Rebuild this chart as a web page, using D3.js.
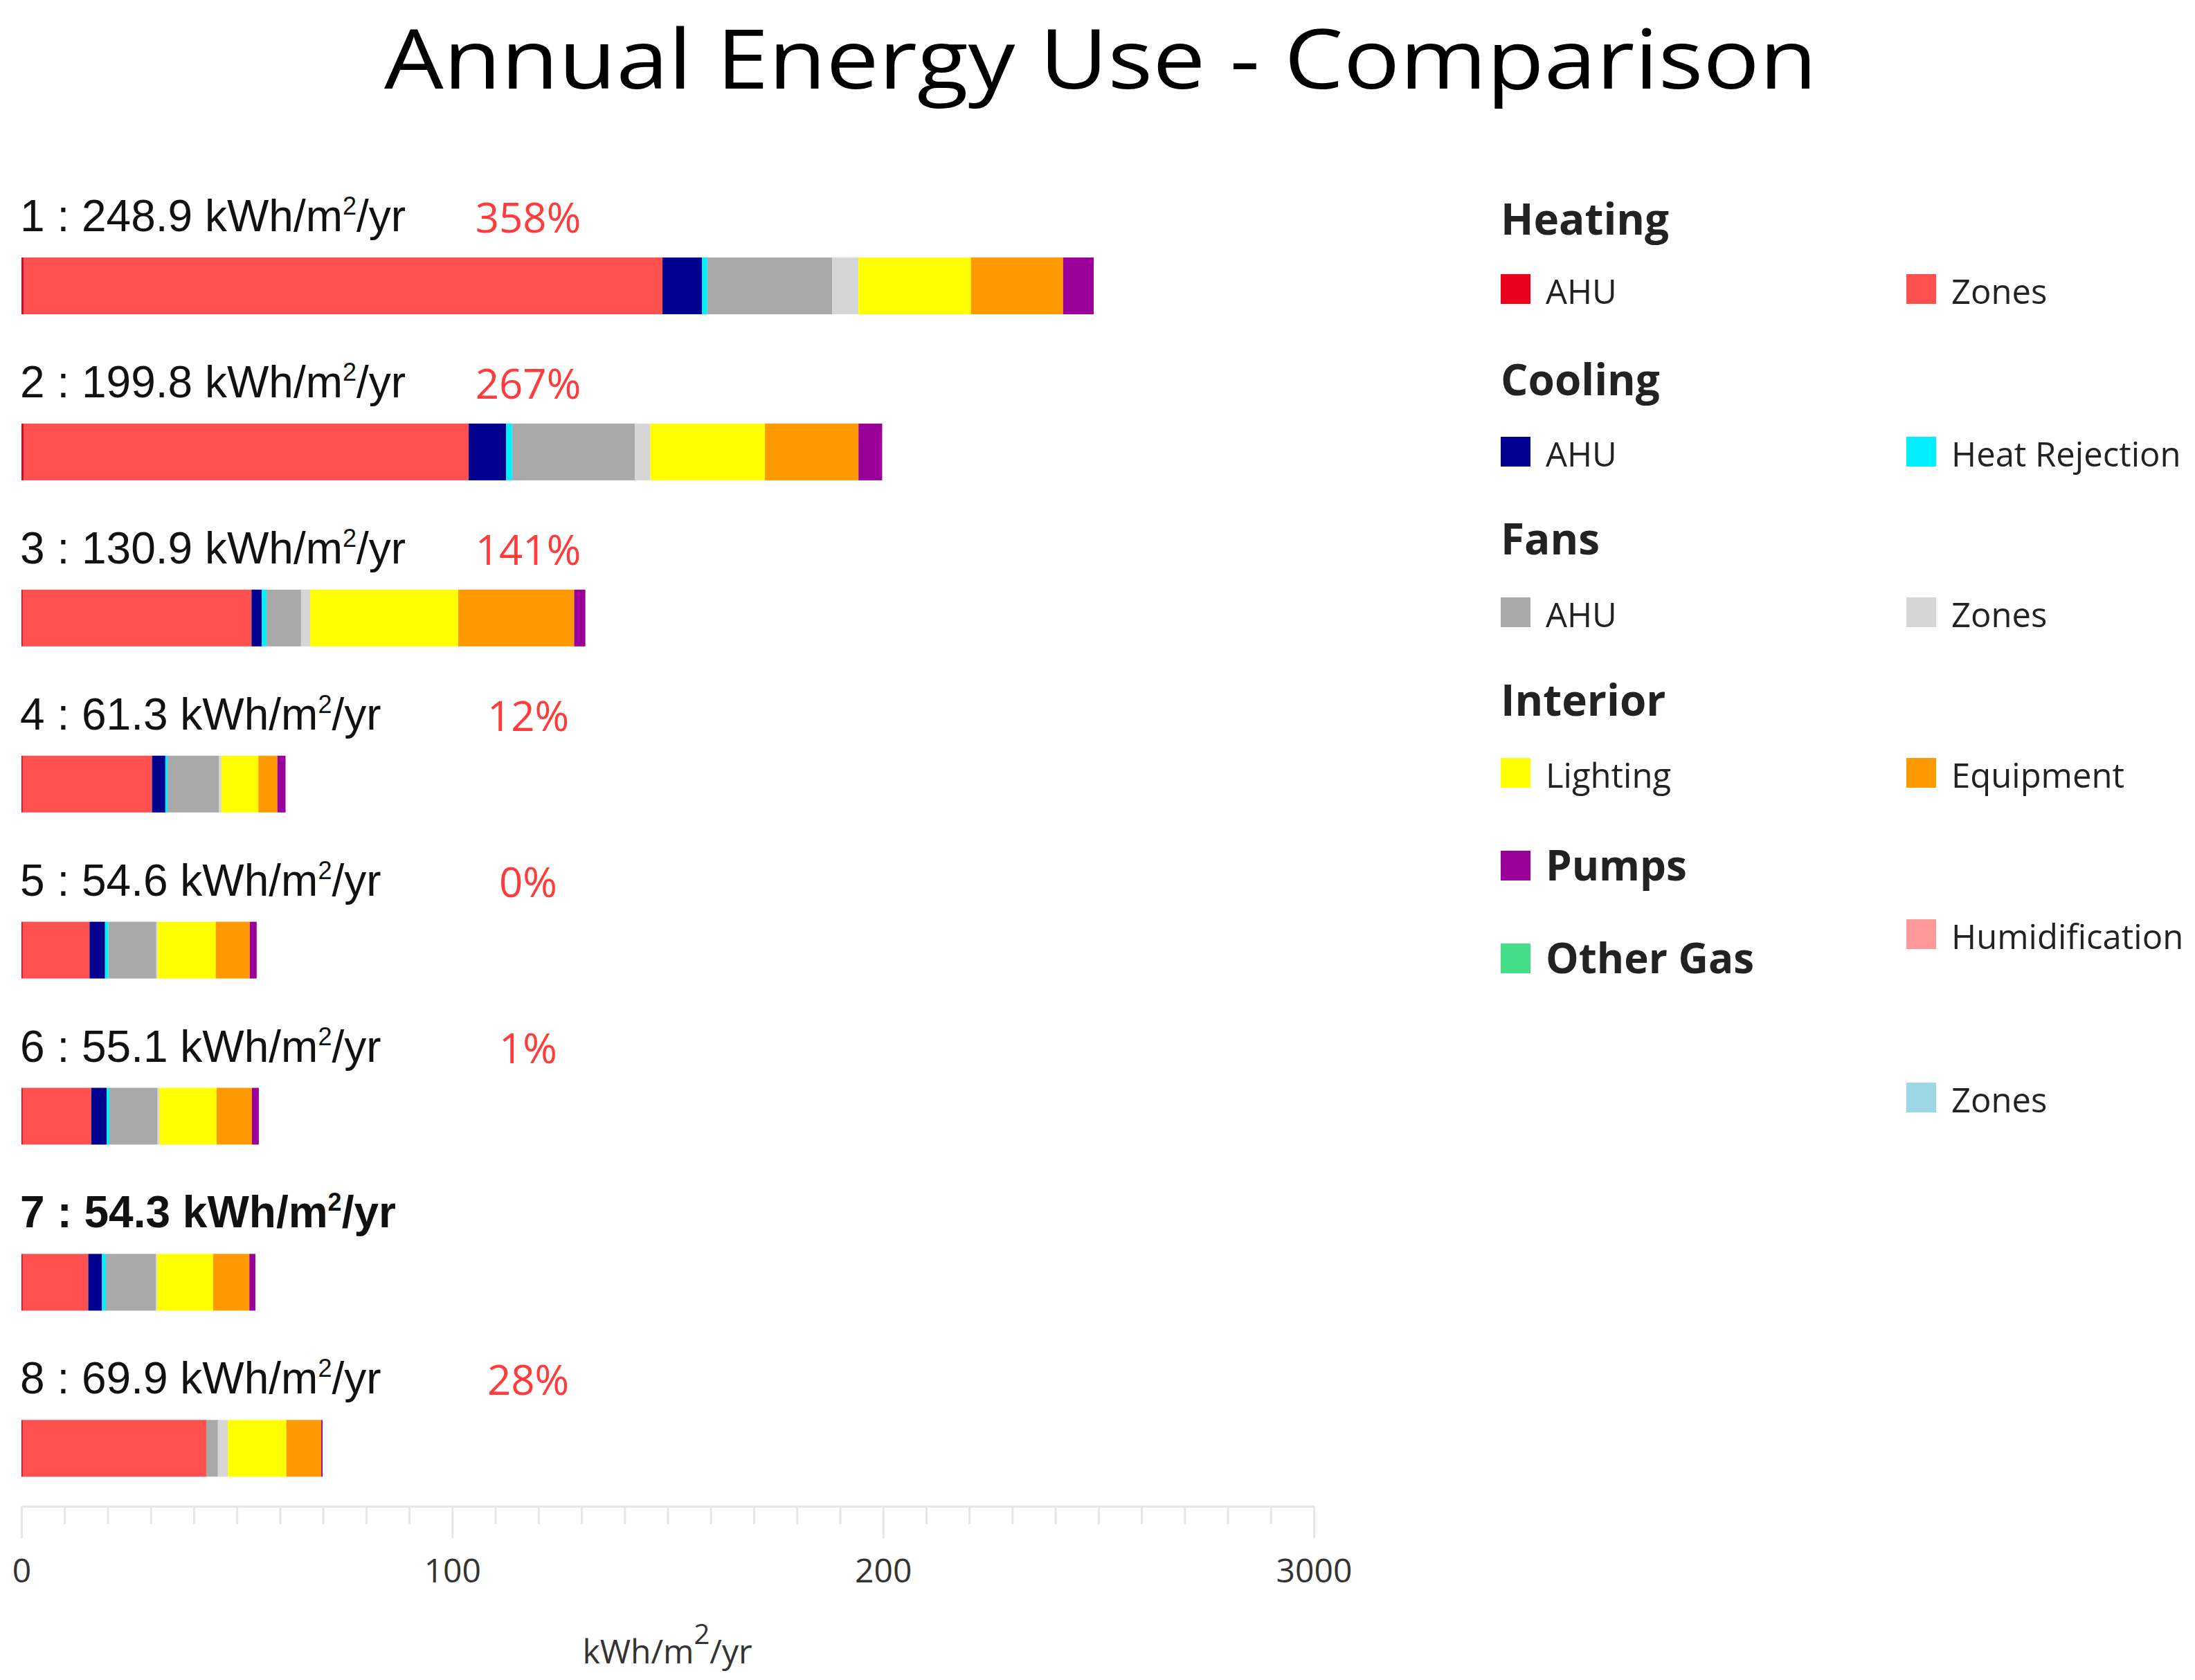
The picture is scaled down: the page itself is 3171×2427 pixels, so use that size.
<!DOCTYPE html>
<html>
<head>
<meta charset="utf-8">
<script src="https://cdn.jsdelivr.net/npm/d3@7"></script>
<style>
  body { margin: 0; background: #fff; }
  svg { display: block; }
</style>
</head>
<body>
<div id="chart"></div>
<script>
/**
 * CONSTANTS AND GLOBALS
 * */
const width = 3171,
  height = 2427,
  margin = { top: 372, left: 31, right: 1273 };

// runs (rows), totals and change vs. baseline run 7
const runs = ["1", "2", "3", "4", "5", "6", "7", "8"];
const totals = [248.9, 199.8, 130.9, 61.3, 54.6, 55.1, 54.3, 69.9];
const changes = ["358%", "267%", "141%", "12%", "0%", "1%", "", "28%"];
const baselineRun = "7";

// end use series, kWh/m2/yr, one value per run
const heatingAHU   = [0.5, 0.5, 0.3, 0.3, 0.3, 0.3, 0.3, 0.3];
const heatingZones = [148.3, 103.3, 53.1, 30.0, 15.5, 15.9, 15.2, 42.6];
const coolingAHU   = [9.2, 8.7, 2.4, 3.1, 3.6, 3.6, 3.2, 0];
const heatRejection = [1.2, 1.4, 1.1, 0.5, 0.8, 0.6, 0.9, 0];
const fansAHU      = [29.0, 28.5, 8.0, 11.9, 11.1, 11.2, 11.6, 2.7];
const fansZones    = [6.1, 3.6, 2.1, 0.6, 0.3, 0.4, 0.3, 2.3];
const lighting     = [26.1, 26.6, 34.4, 8.6, 13.5, 13.3, 13.0, 13.6];
const equipment    = [21.4, 21.7, 26.9, 4.4, 7.9, 8.2, 8.4, 8.1];
const pumps        = [7.1, 5.5, 2.6, 1.9, 1.6, 1.6, 1.4, 0.3];
const otherGas     = [0, 0, 0, 0, 0, 0, 0, 0];
const humidification = [0, 0, 0, 0, 0, 0, 0, 0];
const dhwZones     = [0, 0, 0, 0, 0, 0, 0, 0];

// series keys and colours
const seriesKeys = ["heatingAHU", "heatingZones", "coolingAHU", "heatRejection", "fansAHU",
  "fansZones", "lighting", "equipment", "pumps", "otherGas", "humidification", "dhwZones"];
const seriesValues = [heatingAHU, heatingZones, coolingAHU, heatRejection, fansAHU,
  fansZones, lighting, equipment, pumps, otherGas, humidification, dhwZones];
const seriesColors = ["#e8001c", "#ff5050", "#00008e", "#00f0ff", "#a9a9a9",
  "#d6d6d6", "#ffff00", "#ff9900", "#990099", "#44dd88", "#ff9999", "#9dd6e4"];

// axis ticks
const tickValues = [0, 100, 200, 300];
const tickLabels = ["0", "100", "200", "3000"];

// legend groups: header, left item, right item
const legendHeaders = ["Heating", "Cooling", "Fans", "Interior"];
const legendLeft = ["AHU", "AHU", "AHU", "Lighting"];
const legendRight = ["Zones", "Heat Rejection", "Zones", "Equipment"];

/**
 * BUILD TABLE
 * */
const table = runs.map((r, i) => {
  const row = { run: r };
  seriesKeys.forEach((k, j) => row[k] = seriesValues[j][i]);
  return row;
});
const stacked = d3.stack().keys(seriesKeys)(table);
const color = d3.scaleOrdinal().domain(seriesKeys).range(seriesColors);

/**
 * SCALES
 * */
const xScale = d3.scaleLinear()
  .domain([0, 300])
  .range([margin.left, width - margin.right]);

const yScale = d3.scalePoint()
  .domain(runs)
  .range([margin.top, margin.top + 7 * 239.9]);

const barHeight = 82;

const svg = d3.select("#chart")
  .append("svg")
  .attr("width", width)
  .attr("height", height);

// TITLE
svg.append("text")
  .attr("x", 1590)
  .attr("y", 128)
  .attr("text-anchor", "middle")
  .attr("font-family", "Open Sans")
  .attr("font-size", 119)
  .attr("textLength", 2070)
  .attr("lengthAdjust", "spacingAndGlyphs")
  .attr("fill", "#000")
  .text("Annual Energy Use - Comparison");

// BARS
svg.append("g")
  .selectAll("g")
  .data(stacked)
  .join("g")
  .attr("fill", d => color(d.key))
  .selectAll("rect")
  .data(d => d)
  .join("rect")
  .attr("x", d => xScale(d[0]))
  .attr("y", d => yScale(d.data.run))
  .attr("width", d => Math.max(0, xScale(d[1]) - xScale(d[0])))
  .attr("height", barHeight);

// ROW LABELS
const labels = svg.append("g")
  .selectAll("text.run")
  .data(runs)
  .join("text")
  .attr("class", "run")
  .attr("x", margin.left - 2)
  .attr("y", d => yScale(d) - 38)
  .attr("font-family", "Liberation Sans, Arial, sans-serif")
  .attr("font-size", 64)
  .attr("font-weight", d => d === baselineRun ? "bold" : "normal")
  .attr("fill", "#111");

labels.append("tspan").text((d, i) => `${d} : ${totals[i].toFixed(1)} kWh/m`);
labels.append("tspan").attr("dy", -24).attr("font-size", 36).text("2");
labels.append("tspan").attr("dy", 24).text("/yr");

// CHANGE LABELS
svg.append("g")
  .selectAll("text.change")
  .data(runs)
  .join("text")
  .attr("class", "change")
  .attr("x", 763)
  .attr("y", d => yScale(d) - 36)
  .attr("text-anchor", "middle")
  .attr("font-family", "Open Sans")
  .attr("font-size", 60)
  .attr("fill", "#ff3b3b")
  .text((d, i) => changes[i]);

// AXIS
const xAxis = d3.axisBottom(xScale)
  .tickValues(d3.range(0, 301, 10))
  .tickSizeInner(26)
  .tickSizeOuter(0)
  .tickFormat(d => {
    const k = tickValues.indexOf(d);
    return k >= 0 ? tickLabels[k] : "";
  });

const axisG = svg.append("g")
  .attr("transform", "translate(0,2176)")
  .call(xAxis);

axisG.select(".domain").attr("stroke", "#e6e6e6").attr("stroke-width", 3);
axisG.selectAll(".tick line")
  .attr("stroke", "#e6e6e6")
  .attr("stroke-width", 3)
  .attr("y2", d => tickValues.includes(d) ? 46 : 26);
axisG.selectAll(".tick text")
  .attr("y", 76)
  .attr("font-family", "Open Sans")
  .attr("font-size", 48)
  .attr("fill", "#333");

const axisTitle = svg.append("text")
  .attr("x", 964)
  .attr("y", 2403)
  .attr("text-anchor", "middle")
  .attr("font-family", "Open Sans")
  .attr("font-size", 48)
  .attr("fill", "#333");
axisTitle.append("tspan").text("kWh/m");
axisTitle.append("tspan").attr("dy", -28).attr("font-size", 40).text("2");
axisTitle.append("tspan").attr("dy", 28).text("/yr");

// LEGEND
const legend = svg.append("g").attr("font-family", "Open Sans").attr("fill", "#222");
const leftX = 2168, rightX = 2754, swatch = 43;
const headerY = [339, 571, 801, 1034];
const itemY = [439, 674, 906, 1138];

legend.selectAll("text.header")
  .data(legendHeaders)
  .join("text")
  .attr("class", "header")
  .attr("x", leftX)
  .attr("y", (d, i) => headerY[i])
  .attr("font-size", 62)
  .attr("font-weight", "bold")
  .text(d => d);

const legendItems = [];
legendHeaders.forEach((h, i) => {
  legendItems.push({ x: leftX, y: itemY[i], label: legendLeft[i], key: seriesKeys[i * 2], bold: false });
  legendItems.push({ x: rightX, y: itemY[i], label: legendRight[i], key: seriesKeys[i * 2 + 1], bold: false });
});
legendItems.push({ x: leftX, y: 1272, label: "Pumps", key: "pumps", bold: true });
legendItems.push({ x: leftX, y: 1406, label: "Other Gas", key: "otherGas", bold: true });
legendItems.push({ x: rightX, y: 1371, label: "Humidification", key: "humidification", bold: false });
legendItems.push({ x: rightX, y: 1607, label: "Zones", key: "dhwZones", bold: false });

const item = legend.selectAll("g.item")
  .data(legendItems)
  .join("g")
  .attr("class", "item")
  .attr("transform", d => `translate(${d.x},${d.y})`);

item.append("rect")
  .attr("x", 0)
  .attr("y", -43)
  .attr("width", swatch)
  .attr("height", swatch)
  .attr("fill", d => color(d.key));

item.append("text")
  .attr("x", 65)
  .attr("y", 0)
  .attr("font-size", d => d.bold ? 60 : 49)
  .attr("font-weight", d => d.bold ? "bold" : "normal")
  .text(d => d.label);
</script>
</body>
</html>
